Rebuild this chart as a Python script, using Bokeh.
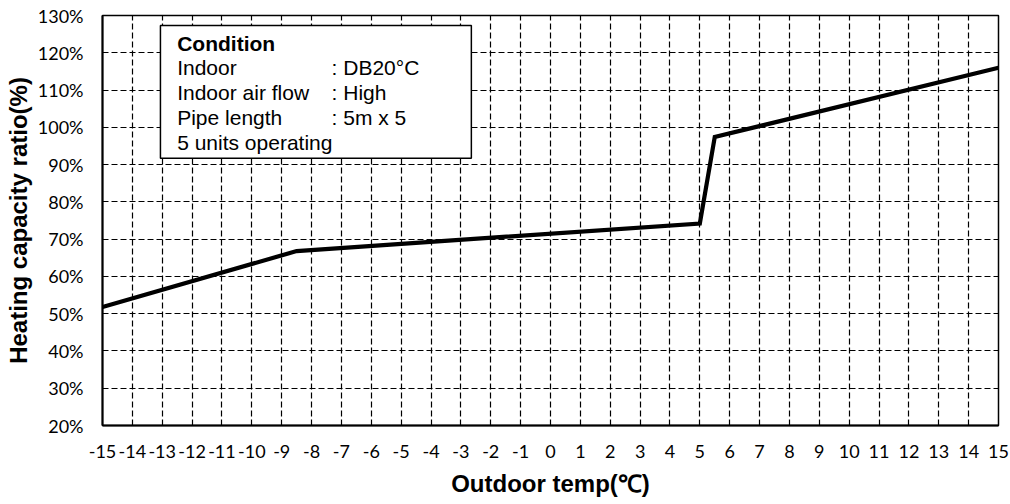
from bokeh.plotting import figure
from bokeh.models import Range1d, FixedTicker, BoxAnnotation, Label
from bokeh.embed import file_html
from bokeh.resources import INLINE

# ---- data ----
outdoor_temp = [-15, -8.5, 5, 5.5, 15]
capacity_ratio = [51.8, 66.8, 74.2, 97.4, 116.0]

x_ticks = list(range(-15, 16))
x_tick_labels = ["-15", "-14", "-13", "-12", "-11", "-10", "-9", "-8", "-7", "-6",
                 "-5", "-4", "-3", "-2", "-1", "0", "1", "2", "3", "4", "5", "6",
                 "7", "8", "9", "10", "11", "12", "13", "14", "15"]
y_ticks = [20, 30, 40, 50, 60, 70, 80, 90, 100, 110, 120, 130]
y_tick_labels = ["20%", "30%", "40%", "50%", "60%", "70%", "80%", "90%",
                 "100%", "110%", "120%", "130%"]

cond_title = "Condition"
cond_names = ["Indoor", "Indoor  air flow", "Pipe length", "5 units operating"]
cond_values = [": DB20°C", ": High", ": 5m x 5", ""]

x_title = "Outdoor temp(℃)"
y_title = "Heating capacity ratio(%)"

# ---- figure ----
p = figure(width=1010, height=504, output_backend="svg", toolbar_location=None,
           x_range=Range1d(-15, 15), y_range=Range1d(20, 130),
           min_border_left=102, min_border_right=12, min_border_top=15, min_border_bottom=79)
p.background_fill_color = "white"
p.border_fill_color = "white"
p.outline_line_color = "black"
p.outline_line_width = 1.5
p.outline_line_alpha = 1.0

p.xaxis.ticker = FixedTicker(ticks=x_ticks)
p.yaxis.ticker = FixedTicker(ticks=y_ticks)
p.xaxis.major_label_overrides = {t: l for t, l in zip(x_ticks, x_tick_labels)}
p.yaxis.major_label_overrides = {t: l for t, l in zip(y_ticks, y_tick_labels)}

for ax in (p.xaxis, p.yaxis):
    ax.axis_line_color = "black"
    ax.axis_line_width = 2
    ax.major_tick_line_color = None
    ax.minor_tick_line_color = None
    ax.major_tick_out = 0
    ax.major_tick_in = 0
    ax.major_label_text_font = "Lato"
    ax.major_label_text_font_size = "18px"
    ax.major_label_text_color = "black"
    ax.major_label_standoff = 19
    ax.axis_label_text_font = "Liberation Sans"
    ax.axis_label_text_font_size = "24px"
    ax.axis_label_text_font_style = "bold"
    ax.axis_label_text_color = "black"

p.xaxis.axis_label = x_title
p.yaxis.axis_label = y_title
p.xaxis.axis_label_standoff = 9
p.yaxis.axis_label_standoff = 3

for g in (p.xgrid, p.ygrid):
    g.grid_line_color = "black"
    g.grid_line_width = 1.2
    g.grid_line_dash = "6 3"
    g.grid_line_alpha = 1.0

p.line(outdoor_temp, capacity_ratio, line_color="black", line_width=4.2,
       line_join="miter")

# condition box
box = BoxAnnotation(left=-13.06, right=-2.65, top=127.32, bottom=91.71,
                    fill_color="white", fill_alpha=1.0,
                    line_color="black", line_width=1.5, line_alpha=1.0)
p.add_layout(box)

row_y = [122.62, 115.97, 109.34, 102.71, 96.06]
p.add_layout(Label(x=-12.5, y=row_y[0], text=cond_title, text_font="Liberation Sans",
                   text_font_size="21px", text_font_style="bold", text_color="black",
                   text_align="left", text_baseline="middle"))
for i, (n, v) in enumerate(zip(cond_names, cond_values)):
    p.add_layout(Label(x=-12.5, y=row_y[i + 1], text=n, text_font="Liberation Sans",
                       text_font_size="21px", text_color="black",
                       text_align="left", text_baseline="middle"))
    if v:
        p.add_layout(Label(x=-7.33, y=row_y[i + 1], text=v, text_font="Liberation Sans",
                           text_font_size="21px", text_color="black",
                           text_align="left", text_baseline="middle"))

open("out.html", "w").write(file_html(p, INLINE))
